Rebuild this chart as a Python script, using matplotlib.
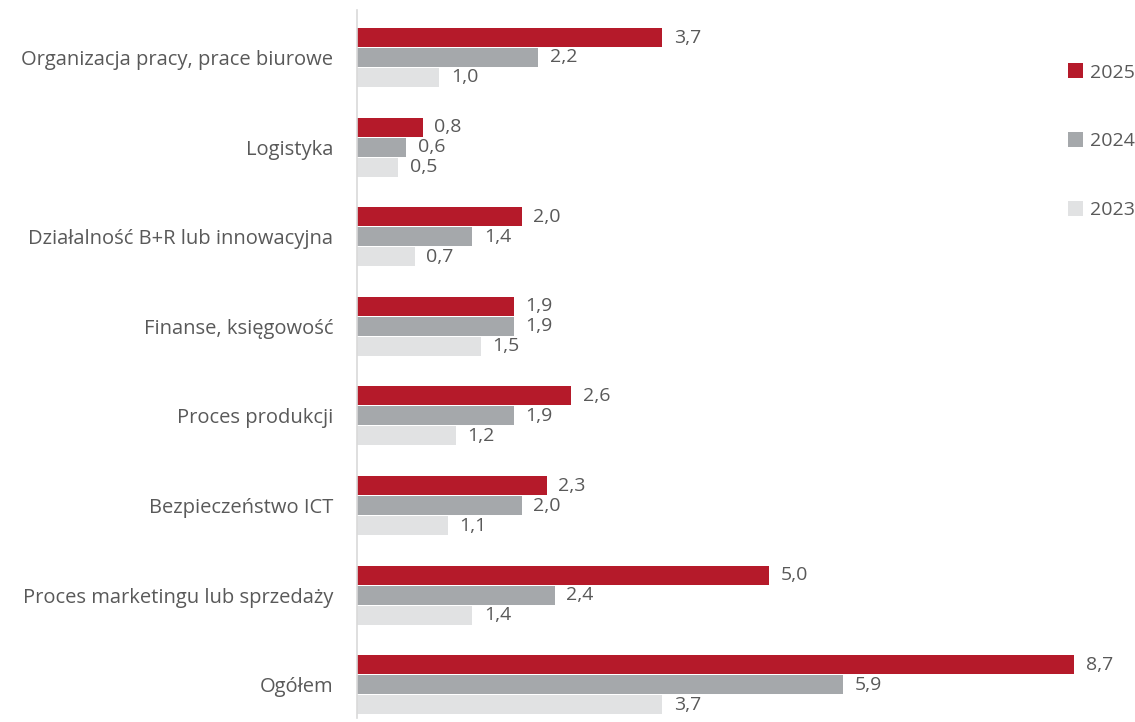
import numpy as np
import matplotlib.pyplot as plt

categories = [
    "Organizacja pracy, prace biurowe",
    "Logistyka",
    "Działalność B+R lub innowacyjna",
    "Finanse, księgowość",
    "Proces produkcji",
    "Bezpieczeństwo ICT",
    "Proces marketingu lub sprzedaży",
    "Ogółem",
]
years = ["2025", "2024", "2023"]
v2025 = [3.7, 0.8, 2.0, 1.9, 2.6, 2.3, 5.0, 8.7]
v2024 = [2.2, 0.6, 1.4, 1.9, 1.9, 2.0, 2.4, 5.9]
v2023 = [1.0, 0.5, 0.7, 1.5, 1.2, 1.1, 1.4, 3.7]

colors = ["#B51A2A", "#A5A8AB", "#E1E2E3"]
text_color = "#595959"
plt.rcParams["font.family"] = ["Open Sans", "DejaVu Sans"]

W, H = 1135, 722
fig = plt.figure(figsize=(W / 100, H / 100), dpi=100)
ax = fig.add_axes([357 / W, (H - 718) / H, (1099 - 357) / W, (718 - 10) / H])

y = np.arange(len(categories))
bh = 0.212
step = 0.223
for k, (vals, col) in enumerate(zip([v2025, v2024, v2023], colors)):
    pos = y + (k - 1) * step
    ax.barh(pos, vals, height=bh, color=col, label=years[k])
    for p, v in zip(pos, vals):
        ax.text(v + 0.14, p, f"{v:.1f}".replace(".", ","), va="center", ha="left",
                fontsize=14, color=text_color)

ax.set_xlim(0, 9)
ax.set_ylim(7.37, -0.53)
ax.set_yticks(y)
ax.set_yticklabels(categories, fontsize=14.5, color=text_color)
ax.tick_params(axis="y", length=0, pad=17)
ax.set_xticks([])
for s in ["top", "right", "bottom"]:
    ax.spines[s].set_visible(False)
ax.spines["left"].set_color("#D9D9D9")
ax.spines["left"].set_linewidth(1.2)

leg = ax.legend(loc="upper left", bbox_to_anchor=(1050 / W, 1 - 46 / H),
                bbox_transform=fig.transFigure, frameon=False, fontsize=14,
                handlelength=0.8, handleheight=0.8, handletextpad=0.35,
                labelspacing=2.6, labelcolor=text_color)

fig.savefig("out.png", dpi=100)
